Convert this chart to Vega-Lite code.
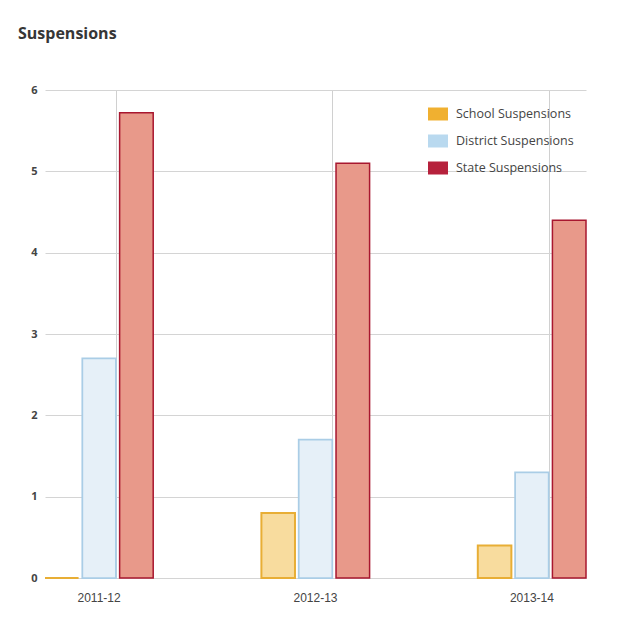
{
  "$schema": "https://vega.github.io/schema/vega-lite/v6.json",
  "width": 541,
  "height": 488,
  "autosize": {"type": "none"},
  "padding": {"left": 45, "top": 90, "right": 48, "bottom": 59},
  "background": "white",
  "title": {
    "text": "Suspensions",
    "anchor": "start",
    "frame": "group",
    "dx": -27,
    "offset": 42,
    "font": "Open Sans",
    "fontSize": 16,
    "fontWeight": "bold",
    "color": "#363636"
  },
  "data": {
    "values": [
      {"year": "2011-12", "series": "School Suspensions", "value": 0},
      {"year": "2011-12", "series": "District Suspensions", "value": 2.7},
      {"year": "2011-12", "series": "State Suspensions", "value": 5.72},
      {"year": "2012-13", "series": "School Suspensions", "value": 0.8},
      {"year": "2012-13", "series": "District Suspensions", "value": 1.7},
      {"year": "2012-13", "series": "State Suspensions", "value": 5.1},
      {"year": "2013-14", "series": "School Suspensions", "value": 0.4},
      {"year": "2013-14", "series": "District Suspensions", "value": 1.3},
      {"year": "2013-14", "series": "State Suspensions", "value": 4.4}
    ]
  },
  "encoding": {
    "x": {
      "field": "year",
      "type": "nominal",
      "scale": {"paddingInner": 0.5, "paddingOuter": 0},
      "axis": {
        "title": null,
        "labelAngle": 0,
        "grid": true,
        "gridColor": "#d0d0d0",
        "domain": false,
        "ticks": false,
        "bandPosition": 0.66,
        "labelPadding": 14,
        "labelFont": "Liberation Sans",
        "labelFontSize": 12,
        "labelColor": "#444444"
      }
    },
    "xOffset": {
      "field": "series",
      "sort": ["School Suspensions", "District Suspensions", "State Suspensions"],
      "scale": {"paddingInner": 0.1}
    },
    "y": {
      "field": "value",
      "type": "quantitative",
      "scale": {"domain": [0, 6]},
      "axis": {
        "title": null,
        "values": [0, 1, 2, 3, 4, 5, 6],
        "grid": true,
        "gridColor": "#d4d4d4",
        "domain": false,
        "ticks": false,
        "labelPadding": 8,
        "labelFont": "Open Sans",
        "labelFontSize": 11,
        "labelFontWeight": "bold",
        "labelColor": "#444444"
      }
    }
  },
  "layer": [
    {
      "mark": {"type": "bar"},
      "encoding": {
        "fill": {
          "field": "series",
          "type": "nominal",
          "sort": ["School Suspensions", "District Suspensions", "State Suspensions"],
          "scale": {"range": ["#f8dc9e", "#e6f0f8", "#e8998a"]},
          "legend": null
        },
        "stroke": {
          "field": "series",
          "type": "nominal",
          "sort": ["School Suspensions", "District Suspensions", "State Suspensions"],
          "scale": {"range": ["#e8ae35", "#aacde6", "#a8172f"]},
          "legend": null
        },
        "strokeWidth": {
          "field": "series",
          "type": "ordinal",
          "sort": ["School Suspensions", "District Suspensions", "State Suspensions"],
          "scale": {"range": [2, 1.5, 2.8]},
          "legend": null
        }
      }
    },
    {
      "transform": [{"filter": "datum.value < 0"}],
      "mark": {"type": "bar"},
      "encoding": {
        "color": {
          "field": "series",
          "type": "nominal",
          "scale": {
            "domain": ["School Suspensions", "District Suspensions", "State Suspensions"],
            "range": ["#f0b030", "#b9d9ef", "#b6213c"]
          },
          "legend": {
            "title": null,
            "orient": "none",
            "legendX": 382,
            "legendY": 13,
            "padding": 0,
            "symbolType": "M-1,-0.65H1V0.65H-1Z",
            "symbolSize": 400,
            "rowPadding": 9,
            "labelOffset": 7,
            "labelFont": "Open Sans",
            "labelFontSize": 12.5,
            "labelColor": "#444444"
          }
        }
      }
    }
  ],
  "config": {
    "view": {"stroke": null}
  }
}
